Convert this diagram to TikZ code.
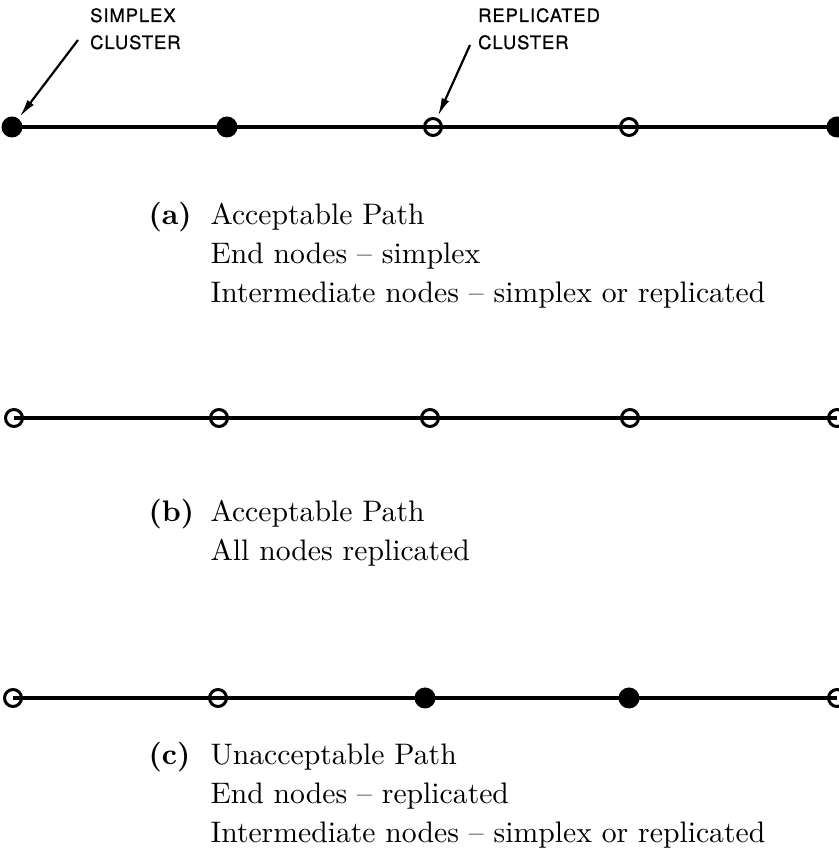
\documentclass[tikz,border=0pt]{standalone}
\usepackage{amsmath}
\usepackage{fontspec}
\usepackage{tikz}
\usetikzlibrary{arrows.meta}
\usetikzlibrary{shapes, graphs}
\newfontfamily\tagfont[LetterSpace=5,FakeBold=0.8]{TeX Gyre Heros}
\tikzset{
  simplex/.style={circle,fill=black,draw=none,inner sep=0pt,minimum size=21bp},
  replicated/.style={circle,draw=black,line width=3bp,inner sep=0pt,minimum size=17bp},
  pathline/.style={black,line width=3.5bp},
  pointer/.style={black,line width=2.2bp,-{Latex[length=18bp,width=8bp]},shorten >=2bp},
  tag/.style={anchor=base west,inner sep=0pt,font=\tagfont\fontsize{18.5}{20}\selectfont},
  caption/.style={anchor=base west,inner sep=0pt,font=\fontsize{10}{12}\selectfont,scale=2.98,transform shape},
}
\begin{document}
\begin{tikzpicture}[>=latex,line join=bevel,]
\useasboundingbox (0bp,0bp) rectangle (839bp,852bp);
%% path (a)
\node (node_a0) at (12bp,725bp) [simplex] {};
  \node (node_a1) at (227bp,725bp) [simplex] {};
  \node (node_a2) at (433bp,725bp) [replicated] {};
  \node (node_a3) at (629bp,725bp) [replicated] {};
  \node (node_a4) at (837bp,725bp) [simplex] {};
  \draw [pathline] (node_a0.center) -- (node_a1.center) -- (node_a2.center) -- (node_a3.center) -- (node_a4.center);
%% path (b)
\node (node_b0) at (14bp,434bp) [replicated] {};
  \node (node_b1) at (219bp,434bp) [replicated] {};
  \node (node_b2) at (430bp,434bp) [replicated] {};
  \node (node_b3) at (630bp,434bp) [replicated] {};
  \node (node_b4) at (837bp,434bp) [replicated] {};
  \draw [pathline] (node_b0.center) -- (node_b1.center) -- (node_b2.center) -- (node_b3.center) -- (node_b4.center);
%% path (c)
\node (node_c0) at (13bp,154bp) [replicated] {};
  \node (node_c1) at (218bp,154bp) [replicated] {};
  \node (node_c2) at (425bp,154bp) [simplex] {};
  \node (node_c3) at (629bp,154bp) [simplex] {};
  \node (node_c4) at (837bp,154bp) [replicated] {};
  \draw [pathline] (node_c0.center) -- (node_c1.center) -- (node_c2.center) -- (node_c3.center) -- (node_c4.center);
%% pointers
\node (tag_simplex) at (90bp,830bp) [tag] {SIMPLEX};
  \node (tag_simplex2) at (90bp,803bp) [tag] {CLUSTER};
  \node (tag_replicated) at (478bp,830bp) [tag] {REPLICATED};
  \node (tag_replicated2) at (478bp,803bp) [tag] {CLUSTER};
  \coordinate (tail_simplex) at (78bp,812bp);
  \coordinate (tail_replicated) at (470bp,807bp);
  \draw [pointer] (tail_simplex) -- (node_a0);
  \draw [pointer] (tail_replicated) -- (node_a2);
%% captions
\node (cap_a) at (148bp,627bp) [caption] {\textbf{(a)}};
  \node (cap_a1) at (210bp,627bp) [caption] {Acceptable Path};
  \node (cap_a2) at (210bp,588bp) [caption] {End nodes -- simplex};
  \node (cap_a3) at (210bp,549bp) [caption] {Intermediate nodes -- simplex or replicated};
  \node (cap_b) at (148bp,330bp) [caption] {\textbf{(b)}};
  \node (cap_b1) at (210bp,330bp) [caption] {Acceptable Path};
  \node (cap_b2) at (210bp,291bp) [caption] {All nodes replicated};
  \node (cap_c) at (148bp,87bp) [caption] {\textbf{(c)}};
  \node (cap_c1) at (210bp,87bp) [caption] {Unacceptable Path};
  \node (cap_c2) at (210bp,48bp) [caption] {End nodes -- replicated};
  \node (cap_c3) at (210bp,10bp) [caption] {Intermediate nodes -- simplex or replicated};
%
\end{tikzpicture}
\end{document}
